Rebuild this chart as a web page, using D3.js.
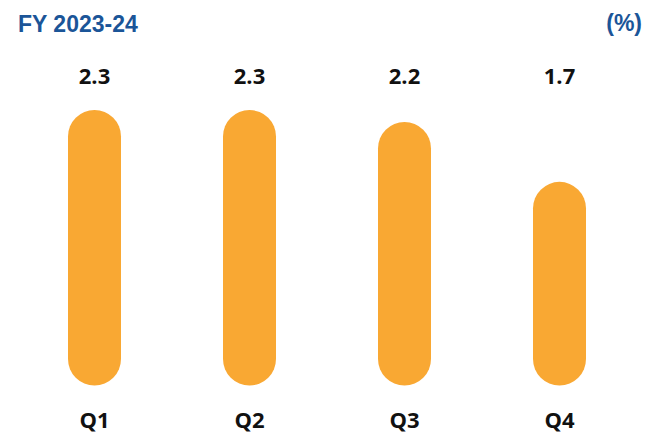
<!DOCTYPE html>
<html lang="en">
<head>
    <meta charset="UTF-8">
    <title>FY 2023-24</title>
    <style>
        body { margin: 0; background: #fff; }
        svg { display: block; }
    </style>
</head>
<body>
    <script src="https://d3js.org/d3.v7.min.js"></script>
    <script>
        let quarters = ['Q1', 'Q2', 'Q3', 'Q4'];
        let values = [2.3, 2.3, 2.2, 1.7];
        let title = 'FY 2023-24';
        let unit = '(%)';

        let W = 647, H = 439;
        let barW = 53;

        let s = d3.select('body').append('svg')
            .attr('width', W)
            .attr('height', H);

        let x = d3.scalePoint().domain(quarters).range([94.5, 559.5]);
        let y = d3.scaleLinear().domain([0, 2.3]).range([385.5, 110]);

        // title + unit
        s.append('text')
            .attr('x', 18).attr('y', 32)
            .style('font-family', 'Liberation Sans, Arial, sans-serif')
            .style('font-weight', 'bold')
            .style('font-size', '23px')
            .style('fill', '#1B5598')
            .text(title);

        s.append('text')
            .attr('x', 642).attr('y', 31)
            .attr('text-anchor', 'end')
            .style('font-family', 'Liberation Sans, Arial, sans-serif')
            .style('font-weight', 'bold')
            .style('font-size', '23px')
            .style('fill', '#1B5598')
            .text(unit);

        // pill bars
        s.selectAll('.bar')
            .data(values)
            .enter().append('rect')
            .attr('class', 'bar')
            .attr('x', (d, i) => x(quarters[i]) - barW / 2)
            .attr('y', d => y(d))
            .attr('width', barW)
            .attr('height', d => y(0) - y(d))
            .attr('rx', barW / 2)
            .attr('fill', '#F9A833');

        // value labels
        s.selectAll('.val')
            .data(values)
            .enter().append('text')
            .attr('class', 'val')
            .attr('x', (d, i) => x(quarters[i]))
            .attr('y', 84)
            .attr('text-anchor', 'middle')
            .style('font-family', 'Open Sans, sans-serif')
            .style('font-weight', 'bold')
            .style('font-size', '22px')
            .style('fill', '#111')
            .text(d => d.toFixed(1));

        // quarter labels
        s.selectAll('.cat')
            .data(quarters)
            .enter().append('text')
            .attr('class', 'cat')
            .attr('x', d => x(d))
            .attr('y', 428)
            .attr('text-anchor', 'middle')
            .style('font-family', 'Open Sans, sans-serif')
            .style('font-weight', 'bold')
            .style('font-size', '22px')
            .style('fill', '#111')
            .text(d => d);
    </script>
</body>
</html>
